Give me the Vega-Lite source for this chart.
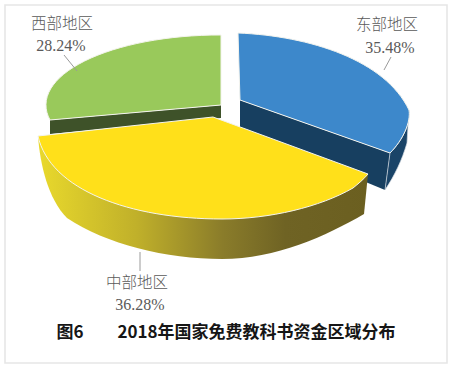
{
  "$schema": "https://vega.github.io/schema/vega-lite/v6.json",
  "width": 442,
  "height": 358,
  "padding": {"left": 5, "top": 5, "right": 4, "bottom": 8},
  "autosize": {"type": "none"},
  "background": "white",
  "view": {"stroke": "#E6E6E6", "strokeWidth": 1.6, "fill": "white"},
  "title": {"text": "图6　　2018年国家免费教科书资金区域分布", "orient": "bottom", "anchor": "middle", "offset": 0, "dy": -38, "font": "Noto Sans CJK SC", "fontSize": 17, "fontWeight": "bold", "color": "#161616"},
  "data": {"values": [
    {"region": "西部地区", "share": 0.2824},
    {"region": "东部地区", "share": 0.3548},
    {"region": "中部地区", "share": 0.3628}
  ]},
  "layer": [
    {
      "transform": [{"filter": "datum.region !== '中部地区'"}],
      "mark": {"type": "point", "filled": true, "opacity": 1, "size": 4, "strokeWidth": 0},
      "encoding": {
        "shape": {"field": "region", "type": "nominal", "legend": null, "scale": {"domain": ["西部地区", "东部地区"], "range": ["M-176,-64 L-5,-79 L-5,-66 L-176,-50 Z", "M14,-84 L164,-31 L159,6 L14,-54 Z"]}},
        "color": {"field": "region", "type": "nominal", "legend": null, "scale": {"domain": ["西部地区", "东部地区"], "range": ["#3E5229", "#173F60"]}}
      }
    },
    {
      "transform": [{"filter": "datum.region === '东部地区'"}],
      "mark": {"type": "point", "shape": "M164,-31 C177,-44 185,-62 183,-74 L181,-41 C176,-24 169,-9 159,6 Z", "filled": true, "opacity": 1, "size": 4, "fill": "#1A4468", "stroke": "#D8DEE4", "strokeWidth": 0.7}
    },
    {
      "transform": [{"filter": "datum.region === '中部地区'"}],
      "mark": {"type": "point", "shape": "M-188,-48 L142,-10 L138,30 C100,52 50,75 -4,75 C-60,75 -120,60 -159,34 C-178,15 -186,-20 -188,-48 Z", "filled": true, "opacity": 1, "size": 4, "strokeWidth": 0,
        "fill": {"gradient": "linear", "x1": 0, "y1": 0, "x2": 1, "y2": 0, "stops": [
          {"offset": 0, "color": "#E9D92C"},
          {"offset": 0.3, "color": "#C0B02A"},
          {"offset": 0.56, "color": "#8A7C2A"},
          {"offset": 0.75, "color": "#6F6324"},
          {"offset": 1, "color": "#6B5F20"}
        ]}}
    },
    {
      "mark": {"type": "point", "filled": true, "opacity": 1, "size": 4, "stroke": "#F4F4EE", "strokeWidth": 1},
      "encoding": {
        "shape": {"field": "region", "type": "nominal", "legend": null, "scale": {"domain": ["西部地区", "东部地区", "中部地区"], "range": [
          "M-5,-79 L-176,-64 A174,70 0 0 1 -5,-149 Z",
          "M14,-84 L12,-151 C84,-148 159,-124 183,-74 C185,-62 177,-44 164,-31 Z",
          "M-13,-67 L-188,-48 C-176,6 -96,35 -4,35 C44,35 94,23 127,4 C132,0 138,-5 142,-10 Z"
        ]}},
        "fill": {"field": "region", "type": "nominal", "legend": null, "scale": {"domain": ["西部地区", "东部地区", "中部地区"], "range": ["#99C95B", "#3D88CB", "#FFE01A"]}}
      }
    },
    {
      "mark": {"type": "point", "filled": false, "opacity": 1, "size": 4, "strokeWidth": 1, "stroke": "#9A9A9A"},
      "encoding": {
        "shape": {"field": "region", "type": "nominal", "legend": null, "scale": {"domain": ["西部地区", "东部地区", "中部地区"], "range": ["M-162,-129 L-149,-113", "M165,-127 L158,-114", "M-86,68 L-86,87"]}}
      }
    },
    {
      "mark": {"type": "text", "font": "Noto Sans CJK SC", "fontWeight": 300, "fontSize": 15.5, "color": "#5A5A5A", "baseline": "middle", "align": "center"},
      "encoding": {
        "text": {"field": "region", "type": "nominal"},
        "x": {"field": "share", "type": "quantitative", "axis": null, "scale": {"domain": [0.2824, 0.3548, 0.3628], "range": [57, 382, 132], "zero": false, "nice": false}},
        "y": {"field": "share", "type": "quantitative", "axis": null, "scale": {"domain": [0.2824, 0.3548, 0.3628], "range": [19, 20, 278], "zero": false, "nice": false}}
      }
    },
    {
      "mark": {"type": "text", "font": "Liberation Serif", "fontSize": 16, "color": "#5A5A5A", "baseline": "middle", "align": "center"},
      "encoding": {
        "text": {"field": "share", "type": "quantitative", "format": ".2%"},
        "x": {"field": "share", "type": "quantitative", "axis": null, "scale": {"domain": [0.2824, 0.3548, 0.3628], "range": [56, 385, 135], "zero": false, "nice": false}},
        "y": {"field": "share", "type": "quantitative", "axis": null, "scale": {"domain": [0.2824, 0.3548, 0.3628], "range": [41, 43, 300], "zero": false, "nice": false}}
      }
    }
  ],
  "resolve": {"scale": {"x": "independent", "y": "independent", "shape": "independent", "color": "independent", "fill": "independent"}}
}
